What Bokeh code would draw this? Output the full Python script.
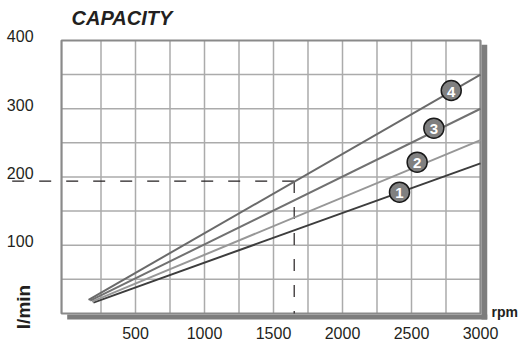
import math
from bokeh.plotting import figure
from bokeh.models import Range1d
from bokeh.embed import file_html
from bokeh.resources import INLINE
from bokeh.core.properties import value

# ---- data ----
line_names = ["1", "2", "3", "4"]
rpm_start = [195, 185, 172, 160]
flow_start = [16, 17.5, 19, 20]
rpm_end = [3000, 3000, 3000, 3000]
flow_end = [220, 254, 300, 350]
line_colors = ["#3d3d3d", "#979797", "#717171", "#6a6a6a"]

badge_rpm = [2413, 2541, 2662, 2788]
badge_flow = [177.7, 221.7, 271.5, 326.7]

x_ticks = [500, 1000, 1500, 2000, 2500, 3000]
x_tick_labels = ["500", "1000", "1500", "2000", "2500", "3000"]
y_ticks = [100, 200, 300, 400]
y_tick_labels = ["100", "200", "300", "400"]
x_grid = [250, 500, 750, 1000, 1250, 1500, 1750, 2000, 2250, 2500, 2750]
y_grid = [50, 100, 150, 200, 250, 300, 350]

op_rpm = 1650
op_flow = 194

# plotting box (data units)
BOX_LEFT, BOX_RIGHT = -36, 3000
BOX_BOTTOM, BOX_TOP = 0, 400

# view (data units) so the whole canvas is the plotting frame
X_START, X_END = -478.3, 3289.9
Y_START, Y_END = -42.5, 458.6

FONT = "Liberation Sans"
INK = "#231f20"

p = figure(width=520, height=342,
           x_range=Range1d(X_START, X_END), y_range=Range1d(Y_START, Y_END),
           x_axis_location=None, y_axis_location=None,
           output_backend="svg", toolbar_location=None,
           min_border=0, outline_line_color=None)
p.xgrid.visible = False
p.ygrid.visible = False

# grid
p.segment(x0=x_grid, y0=[BOX_BOTTOM] * len(x_grid), x1=x_grid, y1=[BOX_TOP] * len(x_grid),
          line_color="#ababab", line_width=1.5)
p.segment(x0=[BOX_LEFT] * len(y_grid), y0=y_grid, x1=[BOX_RIGHT] * len(y_grid), y1=y_grid,
          line_color="#ababab", line_width=1.5)

# drop shadow
p.quad(left=[3007, 5], right=[3049, 3049], bottom=[-8.8, -8.8], top=[393.7, -1.5],
       fill_color="#7d7d7d", line_color=None)

# chart border
p.quad(left=[BOX_LEFT], right=[BOX_RIGHT], bottom=[BOX_BOTTOM], top=[BOX_TOP],
       fill_color=None, line_color="#8a8a8a", line_width=2.2)

# operating point dashed lines (drawn from the corner outward)
p.line([op_rpm, X_START], [op_flow, op_flow], line_color=INK, line_width=1.2, line_dash="12 15")
p.line([op_rpm, op_rpm], [op_flow, BOX_BOTTOM], line_color=INK, line_width=1.2, line_dash="12 14")

# capacity lines
p.segment(x0=rpm_start, y0=flow_start, x1=rpm_end, y1=flow_end,
          line_color=line_colors, line_width=2)

# numbered badges
p.scatter(badge_rpm, badge_flow, size=20, fill_color="#808080",
          line_color="#1a1a1a", line_width=1.5)
p.text(badge_rpm, badge_flow, text=line_names, text_align="center", text_baseline="middle",
       text_color="white", text_font=value(FONT), text_font_style="bold",
       text_font_size="15px", y_offset=1)

# tick labels
p.text(x=x_ticks, y=[BOX_BOTTOM] * len(x_ticks), text=x_tick_labels, y_offset=20,
       text_align="center", text_baseline="middle", text_font=value(FONT),
       text_font_size="16px", text_color=INK)
p.text(x=[BOX_LEFT] * len(y_ticks), y=y_ticks, text=y_tick_labels, x_offset=-28, y_offset=-4,
       text_align="right", text_baseline="middle", text_font=value(FONT),
       text_font_size="16px", text_color=INK)

# title and axis names
p.text(x=[BOX_LEFT], y=[BOX_TOP], text=["CAPACITY"], x_offset=10, y_offset=-22,
       text_align="left", text_baseline="middle", text_font=value(FONT),
       text_font_style="bold italic", text_font_size="20px", text_color=INK)
p.text(x=[BOX_RIGHT], y=[BOX_BOTTOM], text=["rpm"], x_offset=11, y_offset=-1.5,
       text_align="left", text_baseline="middle", text_font=value(FONT),
       text_font_style="bold", text_font_size="14px", text_color=INK)
p.text(x=[BOX_LEFT], y=[BOX_BOTTOM], text=["l/min"], x_offset=-38.5, y_offset=-6.5,
       angle=math.pi / 2, text_align="center", text_baseline="middle", text_font=value(FONT),
       text_font_style="bold", text_font_size="19px", text_color=INK)

open("out.html", "w").write(file_html(p, INLINE))
